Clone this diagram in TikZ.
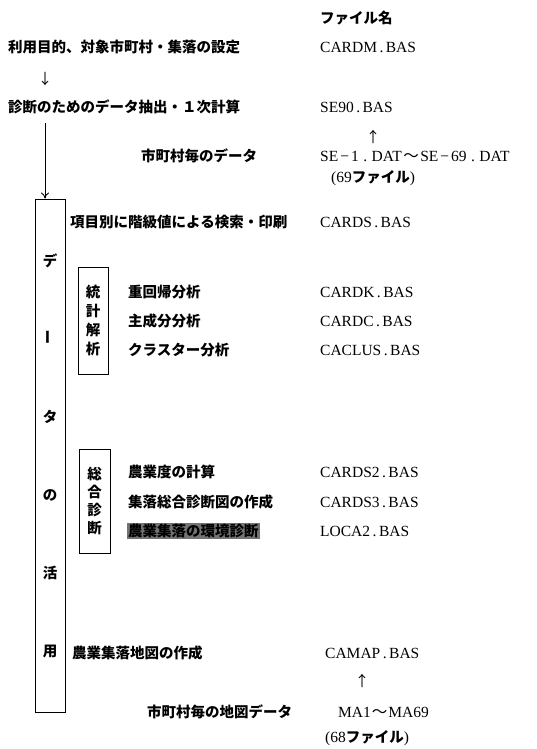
\documentclass[tikz,border=0pt]{standalone}
\usepackage{fontspec}
\usetikzlibrary{arrows.meta}
\setmainfont{Liberation Serif}
\newfontfamily\jp{Noto Sans CJK JP}
\newcommand\lat{\rmfamily\mdseries\fontsize{15.5}{17}\selectfont}
\newcommand\dt{\hspace{2.5pt}.\hspace{2.5pt}}
\newcommand\mn{\hspace{2pt}−\hspace{2pt}}

\begin{document}
\begin{tikzpicture}[x=1pt,y=-1pt,
                txt/.style={anchor=west,inner sep=0pt,font=\jp\bfseries\fontsize{14.5}{15}\selectfont},
                fn/.style={anchor=west,inner sep=0pt,font=\lat},
                arr/.style={anchor=center,inner sep=0pt,font=\jp\fontsize{14.5}{15}\selectfont},
                vbox/.style={draw,line width=0.9pt,inner sep=0pt,align=center}]
                \useasboundingbox (0,0) rectangle (536,749);

                \node[txt] (head) at (320,18) {ファイル名};

                \node[txt] (setup) at (8,47) {利用目的、対象市町村・集落の設定};
                \node[fn] (cardm) at (320,47) {CARDM\dt BAS};
                \node[arr] (down) at (45,79) {↓};
                \node[txt] (extract) at (8,107) {診断のためのデータ抽出・１次計算};
                \node[fn] (se90) at (320,107) {SE90\dt BAS};

                \node[arr] (up1) at (373,137) {↑};
                \node[txt] (sedata) at (141,156) {市町村毎のデータ};
                \node[fn] (sedat) at (320,156) {SE\mn 1\hspace{2pt}\dt\hspace{2pt}DAT\hspace{1.5pt}{\jp 〜}\hspace{1.5pt}SE\mn 69\hspace{2pt}\dt\hspace{2pt}DAT};
                \node[txt] (sefiles) at (331,178) {{\lat (69}ファイル{\lat )}};

                \node[vbox,minimum width=30pt,minimum height=513pt,
                      font=\jp\bfseries\fontsize{14.5}{78}\selectfont] (katsuyo) at (50,455.5)
                      {デ\\\rotatebox{90}{ー}\\タ\\の\\活\\用};
                \coordinate (a0) at (45,123);
                \draw[line width=0.9pt,-{To[length=6pt,width=8pt]}] (a0) -- (a0 |- katsuyo.north);

                \node[txt] (search) at (70,222) {項目別に階級値による検索・印刷};
                \node[fn] (cards) at (320,222) {CARDS\dt BAS};

                \node[vbox,minimum width=30pt,minimum height=107pt,
                      font=\jp\bfseries\fontsize{14.5}{19}\selectfont] (tokei) at (93,320.5)
                      {統\\計\\解\\析};
                \node[txt] (reg) at (128,292) {重回帰分析};
                \node[fn] (cardk) at (320,292) {CARDK\dt BAS};
                \node[txt] (pca) at (128,321) {主成分分析};
                \node[fn] (cardc) at (320,321) {CARDC\dt BAS};
                \node[txt] (clus) at (128,350) {クラスター分析};
                \node[fn] (caclus) at (320,350) {CACLUS\dt BAS};

                \node[vbox,minimum width=31pt,minimum height=104pt,
                      font=\jp\bfseries\fontsize{14.5}{18}\selectfont] (sogo) at (94.5,501)
                      {総\\合\\診\\断};
                \node[txt] (nogyo) at (128,472) {農業度の計算};
                \node[fn] (cards2) at (320,472) {CARDS2\dt BAS};
                \node[txt] (zukei) at (128,502) {集落総合診断図の作成};
                \node[fn] (cards3) at (320,502) {CARDS3\dt BAS};
                \node[txt,fill=black!55,inner sep=1pt] (kankyo) at (127,531) {農業集落の環境診断};
                \node[fn] (loca2) at (320,531) {LOCA2\dt BAS};

                \node[txt] (map) at (72,653) {農業集落地図の作成};
                \node[fn] (camap) at (325,653) {CAMAP\dt BAS};
                \node[arr] (up2) at (362,681) {↑};
                \node[txt] (mapdata) at (147,712) {市町村毎の地図データ};
                \node[fn] (ma) at (338,712) {MA1\hspace{1pt}{\jp 〜}\hspace{1pt}MA69};
                \node[txt] (mafiles) at (325,738) {{\lat (68}ファイル{\lat )}};

                \end{tikzpicture}
\end{document}
